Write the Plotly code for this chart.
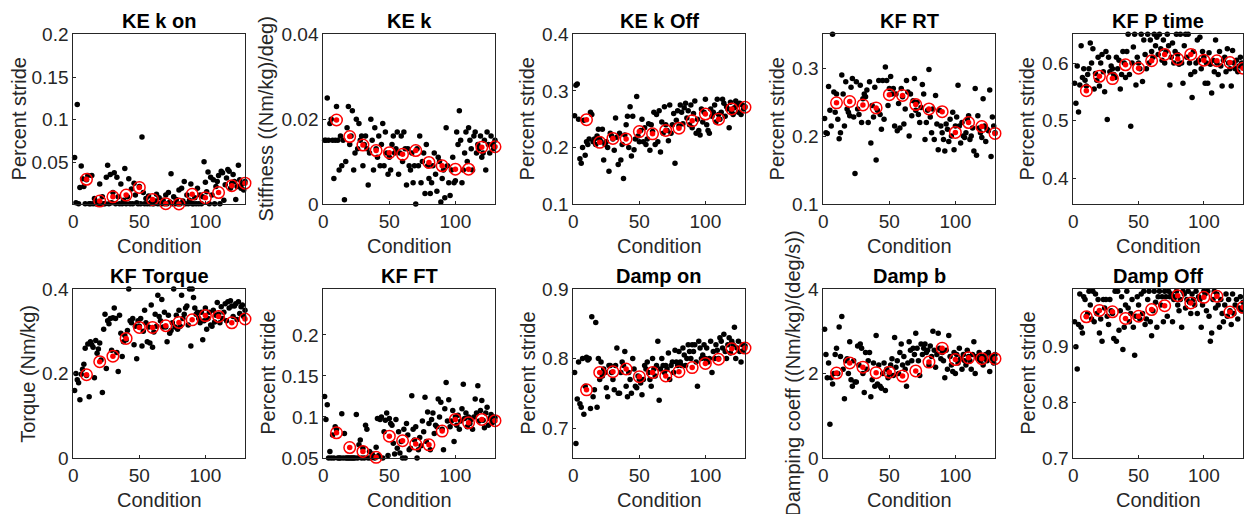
import plotly.graph_objects as go

# ---------------- DATA ----------------
conditions = list(range(1, 131))
mean_conditions = [10, 20, 30, 40, 50, 60, 70, 80, 90, 100, 110, 120, 130]

titles = ["KE k on", "KE k", "KE k Off", "KF RT", "KF P time",
          "KF Torque", "KF FT", "Damp on", "Damp b", "Damp Off"]
ylabels = ["Percent stride", "Stiffness ((Nm/kg)/deg)", "Percent stride", "Percent stride", "Percent stride",
           "Torque (Nm/kg)", "Percent stride", "Percent stride", "Damping coeff ((Nm/kg)/(deg/s))", "Percent stride"]
xlabel = "Condition"
xtick_vals = [0, 50, 100]

yranges = [[0.0016, 0.2], [0, 0.04], [0.1, 0.4], [0.1, 0.35], [0.355, 0.65],
           [0, 0.4], [0.05, 0.256], [0.657, 0.9], [0, 4], [0.7, 1.004]]
ytick_vals = [[0.05, 0.1, 0.15, 0.2], [0, 0.02, 0.04], [0.1, 0.2, 0.3, 0.4], [0.1, 0.2, 0.3], [0.4, 0.5, 0.6],
              [0, 0.2, 0.4], [0.05, 0.1, 0.15, 0.2], [0.7, 0.8, 0.9], [0, 2, 4], [0.7, 0.8, 0.9]]

ke_k_on = [0.056, 0.003, 0.118, 0.002, 0.021, 0.046, 0.031, 0.022, 0.002, 0.030,
           0.035, 0.002, 0.002, 0.035, 0.002, 0.008, 0.002, 0.002, 0.004, 0.025,
           0.002, 0.010, 0.002, 0.002, 0.033, 0.047, 0.002, 0.036, 0.003, 0.015,
           0.038, 0.002, 0.033, 0.010, 0.002, 0.025, 0.002, 0.006, 0.043, 0.002,
           0.010, 0.031, 0.002, 0.019, 0.002, 0.026, 0.012, 0.003, 0.002, 0.022,
           0.002, 0.080, 0.015, 0.002, 0.008, 0.002, 0.011, 0.002, 0.004, 0.002,
           0.002, 0.005, 0.013, 0.002, 0.009, 0.002, 0.002, 0.006, 0.002, 0.012,
           0.002, 0.015, 0.004, 0.037, 0.002, 0.010, 0.002, 0.007, 0.002, 0.018,
           0.002, 0.020, 0.005, 0.028, 0.002, 0.012, 0.002, 0.006, 0.025, 0.002,
           0.002, 0.009, 0.002, 0.020, 0.002, 0.012, 0.002, 0.010, 0.051, 0.027,
           0.016, 0.039, 0.002, 0.033, 0.012, 0.030, 0.002, 0.022, 0.028, 0.035,
           0.002, 0.040, 0.038, 0.006, 0.024, 0.032, 0.042, 0.040, 0.020, 0.026,
           0.036, 0.028, 0.007, 0.022, 0.047, 0.030, 0.020, 0.025, 0.018, 0.028]
ke_k = [0.015, 0.015, 0.025, 0.015, 0.019, 0.020, 0.015, 0.006, 0.015, 0.023,
        0.015, 0.008, 0.016, 0.009, 0.015, 0.001, 0.010, 0.018, 0.023, 0.014,
        0.016, 0.022, 0.008, 0.012, 0.020, 0.013, 0.019, 0.015, 0.016, 0.009,
        0.014, 0.016, 0.013, 0.0045, 0.012, 0.020, 0.015, 0.008, 0.018, 0.013,
        0.011, 0.016, 0.009, 0.014, 0.019, 0.009, 0.017, 0.012, 0.007, 0.011,
        0.008, 0.014, 0.016, 0.012, 0.013, 0.017, 0.007, 0.012, 0.016, 0.010,
        0.017, 0.013, 0.0045, 0.013, 0.009, 0.008, 0.012, 0.005, 0.009, 0.000,
        0.013, 0.009, 0.016, 0.005, 0.010, 0.012, 0.0025, 0.014, 0.009, 0.006,
        0.0025, 0.005, 0.009, 0.012, 0.007, 0.003, 0.011, 0.010, 0.0005, 0.006,
        0.008, 0.0015, 0.018, 0.009, 0.005, 0.002, 0.008, 0.011, 0.005, 0.0055,
        0.017, 0.014, 0.022, 0.015, 0.005, 0.008, 0.012, 0.017, 0.010, 0.018,
        0.015, 0.013, 0.008, 0.016, 0.017, 0.012, 0.014, 0.013, 0.016, 0.011,
        0.012, 0.015, 0.008, 0.017, 0.014, 0.012, 0.016, 0.014, 0.013, 0.015]
ke_k_off = [0.256, 0.310, 0.312, 0.250, 0.180, 0.172, 0.200, 0.248, 0.186, 0.210,
            0.205, 0.215, 0.262, 0.258, 0.210, 0.215, 0.205, 0.220, 0.232, 0.215,
            0.210, 0.232, 0.178, 0.205, 0.210, 0.200, 0.158, 0.225, 0.220, 0.215,
            0.195, 0.252, 0.218, 0.170, 0.225, 0.178, 0.205, 0.145, 0.222, 0.240,
            0.255, 0.200, 0.272, 0.185, 0.255, 0.196, 0.215, 0.290, 0.220, 0.210,
            0.230, 0.250, 0.210, 0.235, 0.205, 0.215, 0.242, 0.195, 0.240, 0.228,
            0.262, 0.205, 0.258, 0.210, 0.265, 0.192, 0.245, 0.225, 0.272, 0.240,
            0.230, 0.212, 0.275, 0.225, 0.240, 0.260, 0.172, 0.248, 0.265, 0.238,
            0.275, 0.262, 0.242, 0.270, 0.278, 0.252, 0.265, 0.240, 0.275, 0.235,
            0.260, 0.282, 0.225, 0.250, 0.230, 0.222, 0.268, 0.245, 0.262, 0.285,
            0.240, 0.230, 0.225, 0.268, 0.255, 0.262, 0.275, 0.245, 0.285, 0.258,
            0.250, 0.262, 0.285, 0.278, 0.255, 0.272, 0.268, 0.235, 0.280, 0.262,
            0.258, 0.270, 0.282, 0.275, 0.262, 0.278, 0.258, 0.275, 0.268, 0.272]
kf_rt = [0.226, 0.205, 0.204, 0.273, 0.238, 0.215, 0.350, 0.265, 0.235, 0.262,
         0.225, 0.196, 0.205, 0.290, 0.262, 0.215, 0.280, 0.240, 0.235, 0.230,
         0.272, 0.285, 0.228, 0.145, 0.280, 0.240, 0.232, 0.275, 0.220, 0.255,
         0.262, 0.258, 0.268, 0.220, 0.280, 0.190, 0.245, 0.228, 0.272, 0.165,
         0.238, 0.282, 0.232, 0.210, 0.282, 0.225, 0.302, 0.282, 0.245, 0.270,
         0.288, 0.262, 0.270, 0.215, 0.262, 0.208, 0.248, 0.212, 0.270, 0.258,
         0.218, 0.240, 0.282, 0.265, 0.200, 0.262, 0.230, 0.252, 0.285, 0.238,
         0.250, 0.232, 0.220, 0.242, 0.276, 0.262, 0.195, 0.220, 0.238, 0.298,
         0.228, 0.205, 0.240, 0.195, 0.260, 0.218, 0.180, 0.238, 0.215, 0.205,
         0.195, 0.178, 0.218, 0.210, 0.192, 0.225, 0.200, 0.235, 0.180, 0.215,
         0.228, 0.275, 0.215, 0.190, 0.220, 0.200, 0.198, 0.205, 0.225, 0.230,
         0.195, 0.200, 0.212, 0.178, 0.270, 0.172, 0.230, 0.212, 0.205, 0.198,
         0.255, 0.215, 0.192, 0.210, 0.208, 0.268, 0.170, 0.228, 0.215, 0.205]
kf_p_time = [0.565, 0.530, 0.595, 0.515, 0.562, 0.630, 0.575, 0.590, 0.570, 0.560,
             0.580, 0.590, 0.635, 0.600, 0.625, 0.555, 0.582, 0.570, 0.610, 0.560,
             0.600, 0.615, 0.585, 0.550, 0.620, 0.502, 0.610, 0.585, 0.595, 0.590,
             0.580, 0.575, 0.610, 0.590, 0.605, 0.555, 0.580, 0.620, 0.600, 0.575,
             0.620, 0.650, 0.580, 0.490, 0.600, 0.628, 0.650, 0.562, 0.610, 0.600,
             0.590, 0.650, 0.568, 0.640, 0.615, 0.590, 0.650, 0.600, 0.640, 0.620,
             0.610, 0.650, 0.630, 0.645, 0.615, 0.650, 0.625, 0.605, 0.640, 0.600,
             0.620, 0.650, 0.630, 0.562, 0.610, 0.635, 0.600, 0.620, 0.650, 0.615,
             0.598, 0.650, 0.600, 0.565, 0.630, 0.650, 0.610, 0.650, 0.600, 0.580,
             0.540, 0.620, 0.585, 0.600, 0.640, 0.605, 0.645, 0.590, 0.620, 0.610,
             0.565, 0.600, 0.565, 0.618, 0.598, 0.548, 0.605, 0.585, 0.640, 0.600,
             0.580, 0.620, 0.595, 0.560, 0.605, 0.610, 0.585, 0.625, 0.600, 0.590,
             0.560, 0.622, 0.600, 0.590, 0.605, 0.585, 0.595, 0.610, 0.600, 0.592]
kf_torque = [0.160, 0.200, 0.185, 0.178, 0.138, 0.198, 0.210, 0.222, 0.260, 0.195,
             0.270, 0.145, 0.275, 0.268, 0.262, 0.190, 0.278, 0.248, 0.258, 0.272,
             0.232, 0.155, 0.305, 0.340, 0.212, 0.325, 0.318, 0.330, 0.255, 0.332,
             0.355, 0.330, 0.250, 0.205, 0.338, 0.295, 0.240, 0.275, 0.290, 0.280,
             0.302, 0.400, 0.325, 0.320, 0.330, 0.268, 0.312, 0.235, 0.325, 0.312,
             0.330, 0.265, 0.300, 0.350, 0.320, 0.275, 0.310, 0.272, 0.362, 0.262,
             0.298, 0.340, 0.312, 0.385, 0.335, 0.325, 0.375, 0.310, 0.345, 0.310,
             0.275, 0.338, 0.295, 0.302, 0.320, 0.400, 0.310, 0.338, 0.305, 0.350,
             0.312, 0.385, 0.330, 0.340, 0.355, 0.360, 0.315, 0.400, 0.265, 0.400,
             0.380, 0.355, 0.340, 0.345, 0.330, 0.320, 0.345, 0.280, 0.325, 0.355,
             0.305, 0.330, 0.345, 0.315, 0.312, 0.350, 0.322, 0.338, 0.368, 0.340,
             0.320, 0.358, 0.330, 0.345, 0.365, 0.325, 0.370, 0.355, 0.372, 0.360,
             0.335, 0.360, 0.365, 0.328, 0.370, 0.342, 0.358, 0.362, 0.335, 0.350]
kf_ft = [0.125, 0.097, 0.115, 0.050, 0.058, 0.050, 0.078, 0.050, 0.088, 0.085,
         0.050, 0.050, 0.050, 0.104, 0.050, 0.080, 0.050, 0.050, 0.050, 0.050,
         0.050, 0.050, 0.050, 0.050, 0.103, 0.050, 0.066, 0.072, 0.050, 0.062,
         0.050, 0.090, 0.085, 0.050, 0.058, 0.050, 0.055, 0.052, 0.050, 0.063,
         0.098, 0.053, 0.097, 0.100, 0.050, 0.082, 0.096, 0.105, 0.053, 0.098,
         0.092, 0.090, 0.068, 0.055, 0.097, 0.062, 0.082, 0.056, 0.070, 0.050,
         0.085, 0.050, 0.092, 0.078, 0.060, 0.062, 0.126, 0.085, 0.072, 0.088,
         0.050, 0.060, 0.075, 0.065, 0.095, 0.082, 0.124, 0.070, 0.106, 0.092,
         0.060, 0.097, 0.105, 0.080, 0.090, 0.088, 0.122, 0.100, 0.118, 0.085,
         0.060, 0.110, 0.142, 0.095, 0.121, 0.088, 0.095, 0.108, 0.070, 0.100,
         0.090, 0.102, 0.085, 0.095, 0.110, 0.140, 0.098, 0.105, 0.088, 0.100,
         0.092, 0.097, 0.085, 0.100, 0.122, 0.105, 0.138, 0.095, 0.108, 0.120,
         0.096, 0.087, 0.105, 0.112, 0.090, 0.098, 0.103, 0.093, 0.100, 0.099]
damp_on = [0.780, 0.678, 0.742, 0.795, 0.735, 0.730, 0.800, 0.720, 0.760, 0.802,
           0.798, 0.800, 0.728, 0.860, 0.745, 0.755, 0.852, 0.730, 0.800, 0.770,
           0.795, 0.775, 0.785, 0.780, 0.758, 0.745, 0.790, 0.790, 0.780, 0.770,
           0.755, 0.790, 0.815, 0.750, 0.750, 0.780, 0.795, 0.790, 0.810, 0.760,
           0.745, 0.780, 0.770, 0.750, 0.800, 0.785, 0.760, 0.758, 0.775, 0.770,
           0.765, 0.748, 0.770, 0.790, 0.785, 0.795, 0.780, 0.770, 0.760, 0.800,
           0.785, 0.775, 0.790, 0.825, 0.740, 0.785, 0.800, 0.790, 0.780, 0.790,
           0.785, 0.808, 0.770, 0.790, 0.795, 0.780, 0.812, 0.795, 0.790, 0.810,
           0.795, 0.790, 0.815, 0.805, 0.790, 0.800, 0.820, 0.810, 0.800, 0.820,
           0.810, 0.820, 0.795, 0.760, 0.825, 0.815, 0.800, 0.805, 0.820, 0.800,
           0.815, 0.795, 0.800, 0.825, 0.780, 0.810, 0.800, 0.820, 0.812, 0.800,
           0.830, 0.825, 0.815, 0.835, 0.810, 0.800, 0.820, 0.830, 0.808, 0.825,
           0.820, 0.845, 0.800, 0.815, 0.825, 0.810, 0.795, 0.820, 0.812, 0.818]
damp_b = [3.05, 2.45, 1.90, 2.25, 0.80, 1.90, 1.75, 2.00, 2.45, 2.60,
          2.00, 3.10, 2.40, 3.35, 2.10, 1.40, 2.30, 2.35, 2.00, 2.75,
          1.85, 1.70, 2.30, 1.80, 1.80, 2.65, 2.20, 2.70, 2.60, 2.00,
          1.55, 2.50, 2.10, 2.30, 2.50, 1.45, 1.85, 2.25, 1.70, 2.90,
          1.75, 2.20, 1.70, 1.65, 2.00, 2.25, 1.60, 2.10, 1.90, 2.00,
          2.20, 2.35, 1.95, 2.85, 2.15, 2.30, 2.00, 2.50, 2.70, 2.20,
          2.40, 2.10, 1.70, 2.25, 2.75, 2.55, 2.30, 2.60, 2.45, 2.95,
          2.60, 2.30, 1.95, 2.70, 2.45, 2.60, 2.70, 2.50, 2.55, 2.20,
          2.65, 2.40, 3.00, 2.55, 2.15, 2.45, 2.95, 2.60, 2.35, 2.50,
          2.30, 1.90, 2.55, 2.10, 2.90, 2.40, 2.20, 2.05, 2.50, 2.00,
          2.45, 2.25, 2.60, 2.35, 2.10, 2.45, 2.30, 2.20, 2.55, 2.40,
          2.30, 2.10, 2.45, 2.75, 2.00, 2.40, 2.35, 2.50, 2.30, 2.40,
          2.20, 2.35, 2.45, 2.30, 2.50, 2.05, 2.40, 2.35, 2.25, 2.45]
damp_off = [0.945, 0.900, 0.860, 0.940, 0.995, 0.935, 0.925, 0.990, 0.985, 0.955,
            0.960, 1.000, 0.975, 0.950, 1.000, 0.945, 0.995, 0.960, 0.985, 0.925,
            0.950, 0.910, 0.985, 0.970, 0.985, 0.955, 0.940, 0.985, 0.965, 0.960,
            0.915, 1.000, 0.910, 1.000, 0.930, 0.965, 0.990, 0.895, 0.935, 0.975,
            1.000, 0.970, 0.945, 0.960, 0.985, 0.935, 0.885, 0.955, 0.990, 0.975,
            0.950, 0.995, 0.960, 1.000, 0.940, 0.950, 0.985, 1.000, 0.945, 0.920,
            0.965, 1.000, 0.980, 0.935, 0.990, 1.000, 0.975, 0.990, 0.945, 1.000,
            0.990, 0.955, 1.000, 0.990, 0.995, 0.945, 0.985, 0.990, 1.000, 0.975,
            0.965, 0.985, 0.935, 1.000, 0.995, 0.970, 0.985, 1.000, 0.980, 0.960,
            0.995, 0.985, 0.975, 1.000, 0.960, 0.990, 0.985, 0.935, 0.975, 1.000,
            0.995, 0.965, 1.000, 0.955, 0.910, 0.925, 0.985, 1.000, 0.970, 0.995,
            0.975, 0.935, 0.985, 0.960, 0.945, 0.975, 0.995, 0.955, 0.985, 0.965,
            0.940, 0.995, 0.960, 0.975, 0.985, 0.950, 0.970, 0.990, 0.965, 0.980]

mean_ke_k_on = [0.0305, 0.005, 0.010, 0.012, 0.021, 0.007, 0.002, 0.0016, 0.013, 0.009, 0.015, 0.023, 0.026]
mean_ke_k = [0.0198, 0.0159, 0.0139, 0.0126, 0.0121, 0.0117, 0.0126, 0.0098, 0.009, 0.0082, 0.0082, 0.0134, 0.0135]
mean_ke_k_off = [0.249, 0.209, 0.216, 0.215, 0.228, 0.224, 0.230, 0.234, 0.247, 0.259, 0.250, 0.268, 0.271]
mean_kf_rt = [0.249, 0.251, 0.246, 0.2416, 0.261, 0.260, 0.2465, 0.240, 0.236, 0.2054, 0.220, 0.214, 0.204]
mean_kf_p_time = [0.552, 0.577, 0.573, 0.597, 0.591, 0.604, 0.615, 0.607, 0.615, 0.605, 0.604, 0.601, 0.591]
mean_kf_torque = [0.197, 0.228, 0.241, 0.283, 0.309, 0.309, 0.313, 0.321, 0.327, 0.337, 0.335, 0.320, 0.329]
mean_kf_ft = [0.0807, 0.0627, 0.058, 0.0508, 0.0766, 0.071, 0.067, 0.066, 0.0828, 0.097, 0.093, 0.097, 0.0955]
mean_damp_on = [0.755, 0.780, 0.781, 0.785, 0.774, 0.780, 0.775, 0.781, 0.787, 0.793, 0.799, 0.814, 0.815]
mean_damp_b = [2.01, 2.25, 2.15, 2.02, 2.03, 1.94, 2.06, 2.27, 2.60, 2.33, 2.37, 2.35, 2.35]
mean_damp_off = [0.954, 0.9655, 0.963, 0.951, 0.955, 0.967, 0.974, 0.992, 0.979, 0.989, 0.991, 0.9625, 0.971]

series = [ke_k_on, ke_k, ke_k_off, kf_rt, kf_p_time, kf_torque, kf_ft, damp_on, damp_b, damp_off]
means = [mean_ke_k_on, mean_ke_k, mean_ke_k_off, mean_kf_rt, mean_kf_p_time,
         mean_kf_torque, mean_kf_ft, mean_damp_on, mean_damp_b, mean_damp_off]

# ---------------- LAYOUT ----------------
W, H = 1244, 514
col_left = [73.3, 323.3, 573.3, 823.3, 1073.3]
col_right = [245.0, 495.0, 745.0, 995.0, 1243.0]
row_top = [34.3, 289.0]
row_bot = [204.0, 458.0]
ylabel_offset = [-54, -57, -46, -46, -46, -46, -56, -46, -31, -46]

AX = "#262626"
FONT = "Arial, 'Liberation Sans', Helvetica, sans-serif"

def px(x):
    return x / W

def py(y):
    return 1 - y / H

fig = go.Figure()
annotations = []
for k in range(10):
    r, c = divmod(k, 5)
    xa = "x" if k == 0 else f"x{k+1}"
    ya = "y" if k == 0 else f"y{k+1}"
    fig.add_trace(go.Scatter(x=conditions, y=series[k], xaxis=xa, yaxis=ya, mode="markers",
                             marker=dict(color="black", size=5.5), cliponaxis=False, showlegend=False))
    fig.add_trace(go.Scatter(x=mean_conditions, y=means[k], xaxis=xa, yaxis=ya, mode="markers",
                             marker=dict(symbol="circle-open", color="red", size=11.5, line=dict(width=1.5, color="red")),
                             cliponaxis=False, showlegend=False))
    fig.add_trace(go.Scatter(x=mean_conditions, y=means[k], xaxis=xa, yaxis=ya, mode="markers",
                             marker=dict(color="red", size=5.5), cliponaxis=False, showlegend=False))
    xkey = "xaxis" if k == 0 else f"xaxis{k+1}"
    ykey = "yaxis" if k == 0 else f"yaxis{k+1}"
    common = dict(showline=True, mirror=True, linecolor=AX, linewidth=1, showgrid=False, zeroline=False,
                  automargin=False, ticks="inside", ticklen=3, tickcolor=AX,
                  tickfont=dict(family=FONT, size=19, color=AX))
    fig.layout[xkey] = dict(domain=[px(col_left[c]), px(col_right[c])], range=[0, 130], anchor=ya,
                            tickvals=xtick_vals, **common)
    fig.layout[ykey] = dict(domain=[py(row_bot[r]), py(row_top[r])], range=yranges[k], anchor=xa,
                            tickvals=ytick_vals[k], **common)
    cx = (col_left[c] + col_right[c]) / 2
    cy = (row_top[r] + row_bot[r]) / 2
    annotations.append(dict(text=f"<b>{titles[k]}</b>", x=px(cx), y=py(row_top[r] - 13), xref="paper", yref="paper",
                            showarrow=False, xanchor="center", yanchor="middle",
                            font=dict(family=FONT, size=20, color="black")))
    annotations.append(dict(text=xlabel, x=px(cx), y=py(row_bot[r] + 42), xref="paper", yref="paper",
                            showarrow=False, xanchor="center", yanchor="middle",
                            font=dict(family=FONT, size=20, color=AX)))
    annotations.append(dict(text=ylabels[k], x=px(col_left[c] + ylabel_offset[k]), y=py(cy), xref="paper",
                            yref="paper", showarrow=False, xanchor="center", yanchor="middle", textangle=-90,
                            font=dict(family=FONT, size=20, color=AX)))

fig.update_layout(width=W, height=H, margin=dict(l=0, r=0, t=0, b=0), paper_bgcolor="white",
                  plot_bgcolor="white", annotations=annotations, showlegend=False)
fig.write_html("out.html")
